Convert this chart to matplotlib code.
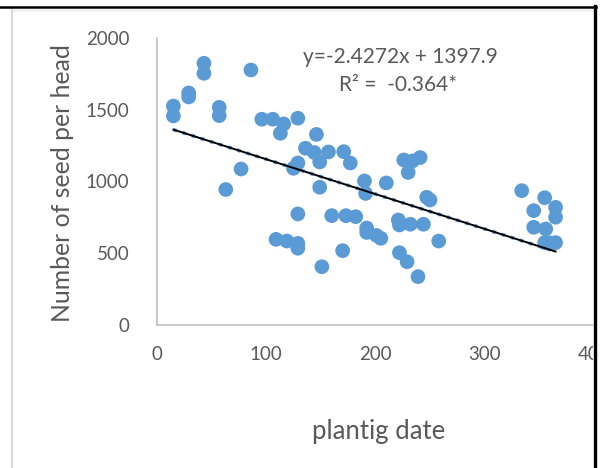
import numpy as np
import matplotlib
matplotlib.use("Agg")
import matplotlib.pyplot as plt
from matplotlib.lines import Line2D
from matplotlib.patches import Rectangle

plt.rcParams['font.family'] = ['Lato', 'DejaVu Sans']

# planting date (days) and seeds per head
plant_date = np.array([
    15, 15, 29, 29, 43, 43, 57, 57, 86, 63, 77,
    96, 106, 116, 113, 129, 146, 136, 144, 149, 157, 171, 177, 129, 125,
    149, 190, 191, 129, 160, 173, 182, 192, 192, 201, 205,
    109, 119, 129, 129, 170, 151, 210,
    226, 234, 241, 230, 247, 250, 221, 222, 232, 244, 222, 229, 239, 258,
    334, 355, 365, 365, 345, 345, 356, 355, 365, 360,
])
seed_per_head = np.array([
    1526, 1457, 1617, 1589, 1824, 1754, 1517, 1459, 1777, 944, 1087,
    1434, 1434, 1401, 1336, 1441, 1328, 1232, 1202, 1136, 1206, 1208, 1129, 1129, 1092,
    960, 1004, 917, 774, 762, 762, 755, 676, 645, 624, 604,
    597, 585, 569, 535, 518, 406, 990,
    1150, 1143, 1167, 1063, 890, 871, 732, 697, 702, 702, 504, 441, 337, 585,
    936, 887, 820, 751, 797, 681, 669, 574, 574, 572,
])

slope = -2.4272
intercept = 1397.9
eq_text = "y=-2.4272x + 1397.9"
r_text = "R\u00b2 =  -0.364*"

x_ticks = [0, 100, 200, 300, 400]
y_ticks = [0, 500, 1000, 1500, 2000]

blue = '#5B9BD5'
grey_text = '#595959'

W, H = 603, 468
fig = plt.figure(figsize=(W / 100, H / 100), dpi=100)
fig.patch.set_facecolor('white')


def fx(px):
    return px / W


def fy(py):
    return 1 - py / H


ax = fig.add_axes([fx(157), fy(325), 436.8 / W, 287 / H])

ax.scatter(plant_date, seed_per_head, s=112, color=blue, edgecolors='none', zorder=3)

# linear trend line from the fitted equation
xs = np.array([plant_date.min(), plant_date.max()])
ax.plot(xs, slope * xs + intercept, color=blue, lw=2.6, ls=':', zorder=4)
ax.plot(xs, slope * xs + intercept, color='black', lw=1.4, zorder=5)

ax.set_xlim(0, 400)
ax.set_ylim(0, 2000)
ax.set_xticks(x_ticks)
ax.set_yticks(y_ticks)
ax.tick_params(length=0, labelsize=13.5, labelcolor=grey_text)
ax.tick_params(axis='x', pad=15)
ax.tick_params(axis='y', pad=20)

for side in ['top', 'right']:
    ax.spines[side].set_visible(False)
for side in ['left', 'bottom']:
    ax.spines[side].set_color('#BFBFBF')
    ax.spines[side].set_linewidth(1.2)

ax.text(0.558, 0.935, eq_text, transform=ax.transAxes, ha='center', va='center',
        fontsize=15, color=grey_text)
ax.text(0.553, 0.837, r_text, transform=ax.transAxes, ha='center', va='center',
        fontsize=15, color=grey_text)

fig.text(fx(379), fy(431), "plantig date", ha='center', va='center',
         fontsize=18.5, color=grey_text)
fig.text(fx(63), fy(183), "Number of seed per head", ha='center', va='center',
         rotation=90, fontsize=17.8, color=grey_text)

# frame lines around the chart area
fig.add_artist(Rectangle((fx(593), 0), fx(603) - fx(593), 1, transform=fig.transFigure,
                         facecolor='white', edgecolor='none', zorder=10))
fig.add_artist(Line2D([fx(12), fx(12)], [0, fy(9)], transform=fig.transFigure,
                      color='#D9D9D9', lw=1.5, zorder=11))
fig.add_artist(Line2D([fx(12), fx(592)], [fy(10), fy(10)], transform=fig.transFigure,
                      color='#E6E6E6', lw=1.0, zorder=11))
fig.add_artist(Line2D([0, fx(596)], [fy(7), fy(7)], transform=fig.transFigure,
                      color='black', lw=1.8, zorder=12))
fig.add_artist(Line2D([fx(594.5), fx(594.5)], [0, fy(6)], transform=fig.transFigure,
                      color='black', lw=2.4, zorder=12))

fig.savefig('out.png', dpi=100)
